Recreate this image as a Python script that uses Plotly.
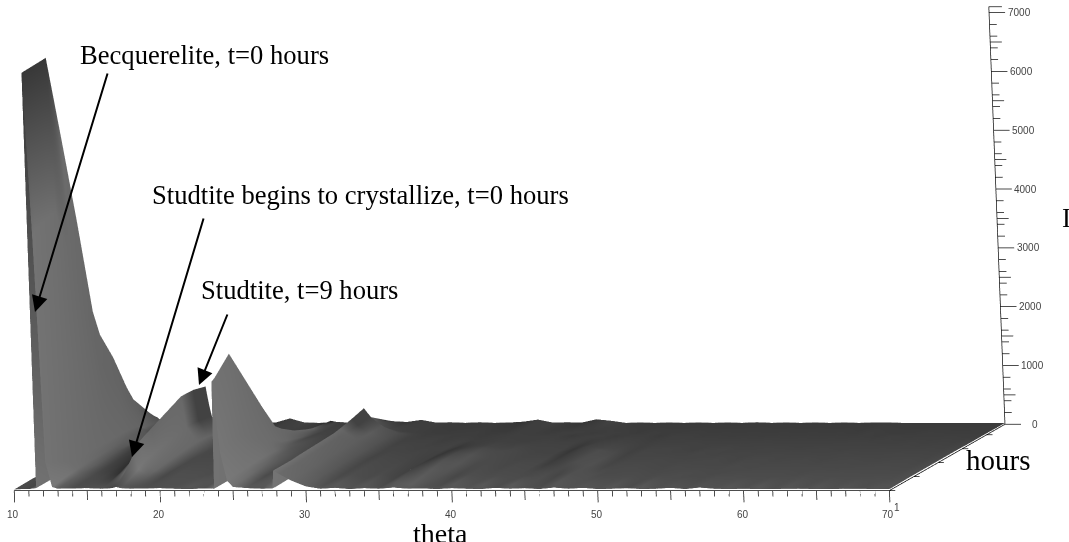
import numpy as np
import plotly.graph_objects as go

HOURS = [1, 1.5, 4, 5, 7, 9, 11, 12, 14, 16, 17, 20]
# one list per theta column, values ordered by HOURS
COLUMNS = [
 (10.0, [20,20,25,20,25,30,20,25,20,25,20,20]),
 (11.0, [25,20,30,25,20,30,25,20,30,25,20,25]),
 (11.5, [40,40,40,40,40,40,40,40,40,40,30,30]),
 (11.6, [7100,7105,7115,7120,5630,4100,2450,2000,1490,860,600,150]),
 (11.9, [4300,4400,4500,4500,3600,2700,1700,1350,1000,600,420,120]),
 (12.2, [480,450,320,260,240,230,225,225,220,200,120,60]),
 (12.6, [60,70,110,120,130,130,140,150,160,120,60,40]),
 (13.0, [30,40,60,70,70,80,90,90,80,60,40,30]),
 (14.0, [35,30,50,60,70,90,110,120,90,60,40,35]),
 (15.0, [40,45,70,90,110,130,150,170,130,80,40,30]),
 (16.0, [30,40,120,170,210,240,270,300,280,200,50,35]),
 (16.7, [40,50,240,340,400,460,520,560,560,480,40,30]),
 (17.0, [60,60,450,600,700,800,900,950,940,880,0,40]),
 (17.3, [40,50,180,260,320,360,400,430,420,380,20,30]),
 (18.0, [30,40,80,100,130,150,170,180,160,120,30,35]),
 (19.0, [35,40,60,70,70,75,70,70,65,60,30,40]),
 (20.0, [40,50,110,115,120,125,120,115,110,100,50,30]),
 (21.0, [30,45,50,55,60,60,55,60,55,50,50,100]),
 (22.0, [25,60,90,95,100,100,105,100,90,70,40,30]),
 (23.0, [35,30,50,50,55,55,50,50,45,40,30,25]),
 (23.7, [30,30,30,30,30,30,30,30,30,30,30,30]),
 (23.8, [1850,1880,2150,1910,1430,950,500,400,250,150,110,60]),
 (24.2, [650,680,760,700,520,380,240,200,130,90,70,40]),
 (24.6, [170,180,190,200,210,200,170,160,120,80,60,35]),
 (25.0, [60,80,100,120,140,150,140,130,100,70,50,30]),
 (26.0, [40,60,70,75,80,85,80,80,70,50,30,25]),
 (27.0, [30,50,110,115,110,105,110,100,80,50,35,30]),
 (27.7, [35,30,40,45,40,50,40,50,40,50,30,30]),
 (27.8, [340,340,340,350,360,370,380,400,450,510,300,60]),
 (28.2, [280,280,285,290,300,310,320,330,340,370,200,50]),
 (29.0, [170,175,175,180,185,190,195,200,200,210,90,40]),
 (30.0, [70,80,90,90,100,100,105,110,100,90,50,75]),
 (31.0, [30,50,50,55,60,60,55,60,50,50,40,30]),
 (32.0, [45,90,100,105,110,110,105,100,90,60,35,35]),
 (33.0, [25,40,40,45,50,50,50,45,40,40,30,25]),
 (34.0, [40,80,110,115,110,105,100,100,80,50,40,35]),
 (35.0, [30,40,50,50,55,60,55,50,50,40,30,25]),
 (36.0, [50,120,170,180,170,150,120,100,70,50,35,30]),
 (37.0, [30,70,110,130,170,170,140,110,60,50,40,45]),
 (38.0, [35,40,60,70,100,130,130,100,70,50,45,80]),
 (39.0, [25,50,60,65,70,70,75,70,50,40,30,30]),
 (40.0, [40,90,95,90,85,90,85,80,70,40,35,35]),
 (41.0, [30,40,40,45,50,45,40,45,50,30,40,30]),
 (42.0, [25,80,85,90,90,85,80,80,60,40,35,85]),
 (43.0, [45,40,40,45,40,45,50,40,40,50,30,60]),
 (44.0, [30,80,85,90,85,80,80,75,60,30,35,25]),
 (45.0, [40,30,60,70,110,130,150,120,70,40,30,30]),
 (46.0, [25,50,80,100,130,120,90,60,50,40,25,25]),
 (47.0, [50,90,120,110,70,60,50,60,50,30,35,30]),
 (48.0, [30,40,40,40,45,40,45,40,40,40,30,25]),
 (49.0, [45,75,80,75,80,75,70,75,60,50,35,30]),
 (50.0, [25,35,40,40,40,40,40,40,40,30,25,25]),
 (51.0, [30,65,70,70,65,70,65,60,60,40,30,30]),
 (52.0, [40,30,35,35,40,35,40,35,35,30,25,25]),
 (53.0, [25,70,75,75,70,70,65,70,60,40,30,35]),
 (54.0, [30,35,35,40,35,40,35,40,35,30,25,25]),
 (55.0, [45,65,70,65,70,65,70,60,60,40,30,30]),
 (56.0, [25,35,40,35,40,35,35,40,35,30,25,25]),
 (57.0, [50,70,75,70,70,75,70,65,55,40,30,30]),
 (58.0, [30,35,35,40,35,35,40,35,35,30,25,25]),
 (59.0, [25,60,65,65,70,65,65,60,55,40,30,30]),
 (60.0, [30,35,35,40,35,40,35,40,35,30,25,25]),
 (61.0, [25,60,65,60,65,60,65,60,55,40,30,30]),
 (62.0, [25,30,35,35,35,35,40,35,35,30,30,30]),
 (63.0, [30,60,60,65,60,65,60,60,50,40,25,25]),
 (64.0, [30,30,30,35,35,35,35,35,30,30,25,25]),
 (65.0, [25,55,60,60,60,55,60,55,50,30,30,25]),
 (66.0, [25,30,30,30,35,35,35,30,30,30,30,25]),
 (67.0, [30,50,55,55,55,55,50,50,45,30,25,25]),
 (68.0, [30,25,30,30,30,30,30,30,30,25,25,25]),
 (69.0, [25,45,45,50,50,45,45,45,40,25,25,25]),
 (70.0, [25,25,30,30,30,30,30,30,25,25,25,20]),
]
THETA = [c[0] for c in COLUMNS]
Z = [list(row) for row in zip(*[c[1] for c in COLUMNS])]

X_LABELS = [10, 20, 30, 40, 50, 60, 70]
X_MID = [15, 25, 35, 45, 55, 65]
X_MINOR = [v for v in range(11, 70) if v % 5]
Z_LABELS = [0, 1000, 2000, 3000, 4000, 5000, 6000, 7000]
Z_MINOR = [v for v in range(100, 7000, 100) if v % 1000 and (v % 200 == 0 or v % 500 == 0)]
Y_TICKS = [1, 5, 9, 13, 17]

W, H = 1069, 542
def px(x): return x / W
def py(y): return 1 - y / H

TEXTS = [
    ("Becquerelite, t=0 hours", 204, 55, 26.6),
    ("Studtite begins to crystallize, t=0 hours", 360, 195, 26.6),
    ("Studtite, t=9 hours", 299, 290, 26.6),
    ("theta", 441, 533, 28),
    ("hours", 998, 460, 29),
    ("I", 1066, 218, 26.6),
]
ARROWS = [(108, 72, 35, 312), (204, 217, 132, 457), (228, 313, 199, 385)]

anns = [dict(text=t, x=px(x), y=py(y), xref="paper", yref="paper", showarrow=False,
             xanchor="center", yanchor="middle",
             font=dict(family="Liberation Serif", size=s, color="black"))
        for t, x, y, s in TEXTS]
anns += [dict(text="", x=px(x1), y=py(y1), xref="paper", yref="paper", axref="pixel", ayref="pixel",
              ax=x0 - x1, ay=y0 - y1, showarrow=True, arrowhead=2, arrowsize=1.6, arrowwidth=2,
              arrowcolor="black", standoff=0)
         for x0, y0, x1, y1 in ARROWS]

hidden = dict(showbackground=False, showgrid=False, zeroline=False, showspikes=False, title="",
              showline=False, ticks="", showticklabels=False)

RANGE_X, RANGE_Y, RANGE_Z = [10, 71.2], [1, 20], [-250, 7150]
BASE = dict(x=2.02, y=1, z=0.934)
scale = 1.8 / 1.032 * 516 / 509
ASPECT = dict(x=BASE["x"] * scale * 61.2 / 60 * 0.997, y=BASE["y"] * scale,
              z=BASE["z"] * scale * 7400 / 7000 * 411 / 415)

# grey shade of each vertex, worked out from the slope of the surface
zz = np.array(Z, float)
sx = np.array(THETA) / 60 * BASE["x"]
sy = np.array(HOURS) / 19 * BASE["y"]
sz = zz / 7000 * BASE["z"]
dy, dx = np.gradient(sz, sy, sx)
dx = np.where(np.abs(dx) > 2, -np.abs(dx), dx)   # steep walls read as lit on both sides
norm = np.sqrt(dx ** 2 + dy ** 2 + 1)
L = np.array([0.75, -0.55, 0.33])
dot = (-dx * L[0] - dy * L[1] + L[2]) / norm
depth = (np.array(HOURS) - 1) / 19
shade = 0.2 + 0.33 * np.clip(dot, 0, 1) - 0.08 * depth[:, None]
shade[:4, THETA.index(11.6)] = 0.22               # dark flat top of the first peak
for t in (16.7, 17.0, 17.3, 27.8, 28.2):          # dark upper faces of the later peaks
    shade[8:10, THETA.index(t)] = 0.26

# axis lines and ticks as 3D polylines
ax_x, ax_y, ax_z = [], [], []
def seg(p, q):
    ax_x.extend([p[0], q[0], None]); ax_y.extend([p[1], q[1], None]); ax_z.extend([p[2], q[2], None])
seg((10, 1, 0), (70, 1, 0))
seg((70, 1, 0), (70, 20, 0))
seg((70, 20, 0), (70, 20, 7100))
seg((70, 20, 7100), (70.9, 20, 7100))
for v in X_LABELS: seg((v, 1, 0), (v, 1, -200))
for v in X_MID: seg((v, 1, 0), (v, 1, -160))
for v in X_MINOR: seg((v, 1, 0), (v, 1, -100))
for v in Z_LABELS: seg((70, 20, v), (71.1, 20, v))
for v in Z_MINOR: seg((70, 20, v), (70.8 if v % 500 == 0 else 70.5, 20, v))
for v in Y_TICKS: seg((70, v, 0), (70.4, v, 0))

TICKFONT = dict(family="Liberation Sans", size=10, color="#444")
ann3d = [dict(x=v, y=1, z=0, text=str(v), showarrow=False, yshift=-24, xshift=-1, font=TICKFONT) for v in X_LABELS]
ann3d += [dict(x=70, y=20, z=v, text=str(v), showarrow=False, xshift=30, font=TICKFONT) for v in Z_LABELS]
ann3d += [dict(x=70, y=1, z=0, text="1", showarrow=False, xshift=8, yshift=-17, font=TICKFONT)]

k = 6.0
fig = go.Figure()
fig.add_trace(go.Surface(
    x=THETA, y=HOURS, z=Z, surfacecolor=shade, cmin=0, cmax=1, showscale=False,
    colorscale=[[0, "#000000"], [1, "#ffffff"]],
    lighting=dict(ambient=1, diffuse=0, specular=0, roughness=1, fresnel=0),
    hoverinfo="skip",
))
fig.add_trace(go.Scatter3d(x=ax_x, y=ax_y, z=ax_z, mode="lines",
                           line=dict(color="#111111", width=1.5), hoverinfo="skip"))
fig.update_layout(
    width=W, height=H, margin=dict(l=0, r=0, t=0, b=0), paper_bgcolor="white", showlegend=False,
    annotations=anns,
    scene=dict(
        dragmode="orbit",
        domain=dict(x=[0, 1021 / W], y=[1 - 509 / H, 1]),
        aspectmode="manual", aspectratio=ASPECT,
        camera=dict(projection=dict(type="orthographic"),
                    eye=dict(x=0.2595 * k, y=-0.955 * k, z=0.1423 * k),
                    up=dict(x=0, y=0.1473, z=0.989),
                    center=dict(x=0, y=0, z=0)),
        xaxis=dict(hidden, range=RANGE_X),
        yaxis=dict(hidden, range=RANGE_Y),
        zaxis=dict(hidden, range=RANGE_Z),
        annotations=ann3d,
    ),
)
fig.write_html("out.html", config={"displayModeBar": False},
               post_script="document.body.style.margin='0';")
